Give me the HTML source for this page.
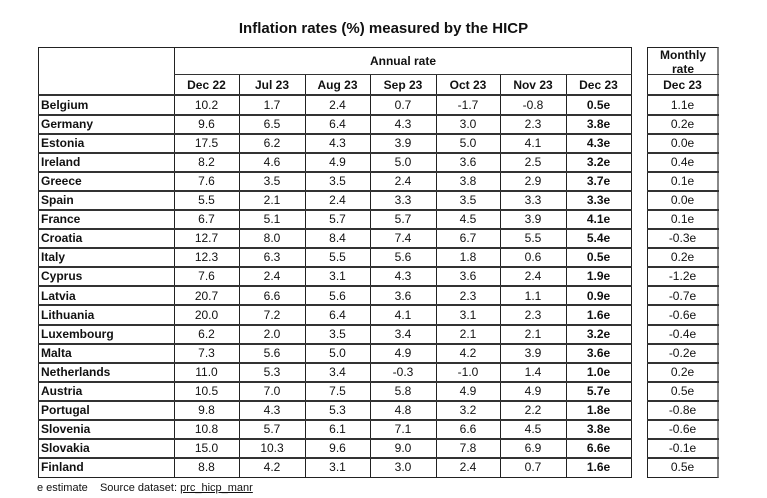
<!DOCTYPE html>
<html><head><meta charset="utf-8"><style>
*{margin:0;padding:0;box-sizing:border-box}
body{width:767px;height:498px;background:#fff;position:relative;font-family:"Liberation Sans",Arial,sans-serif;color:#111;overflow:hidden}
.t{position:absolute;left:0;width:767px;top:20px;text-align:center;font-weight:bold;font-size:15px}
.box{position:absolute;border:1px solid #222}
.r{position:absolute;left:38px;height:19.1px;width:680px;font-size:12px;line-height:19px}
.r span{position:absolute;top:0;text-align:center}
.c0{left:3px;width:130px;text-align:left!important;font-weight:bold}
.c1{left:136px;width:65px}.c2{left:201px;width:66px}.c3{left:267px;width:65px}.c4{left:332px;width:66px}
.c5{left:398px;width:64px}.c6{left:462px;width:66px}.c7{left:528px;width:65px;font-weight:bold}.c8{left:609px;width:71px}
.hl{position:absolute;height:2px;background:#333}
.vl{position:absolute;width:1px;background:#222}
.h{font-weight:bold;font-size:12px;position:absolute;text-align:center}
.f{position:absolute;left:37px;top:482px;font-size:11px}
</style></head><body>
<div class="t">Inflation rates (%) measured by the HICP</div>
<div class="box" style="left:38px;top:47px;width:594px;height:431px"></div>
<div class="box" style="left:647px;top:47px;width:72px;height:431px;border-right:2px solid #888"></div>
<div class="vl" style="left:174px;top:47px;height:431px"></div>
<div class="vl" style="left:239px;top:75px;height:403px"></div>
<div class="vl" style="left:305px;top:75px;height:403px"></div>
<div class="vl" style="left:370px;top:75px;height:403px"></div>
<div class="vl" style="left:436px;top:75px;height:403px"></div>
<div class="vl" style="left:500px;top:75px;height:403px"></div>
<div class="vl" style="left:566px;top:75px;height:403px"></div>
<div class="hl" style="left:174px;top:74px;width:458px;height:1px"></div>
<div class="hl" style="left:647px;top:74px;width:72px;height:1px"></div>
<div class="h" style="left:174px;top:54px;width:458px">Annual rate</div>
<div class="h" style="left:647px;top:48px;width:72px;line-height:14px">Monthly<br>rate</div>
<div class="r" style="top:76px;font-weight:bold"><span class="c1">Dec 22</span><span class="c2">Jul 23</span><span class="c3">Aug 23</span><span class="c4">Sep 23</span><span class="c5">Oct 23</span><span class="c6">Nov 23</span><span class="c7">Dec 23</span><span class="c8">Dec 23</span></div>
<div class="hl" style="left:38px;top:94px;width:594px"></div><div class="hl" style="left:647px;top:94px;width:72px"></div>
<div class="hl" style="left:38px;top:114px;width:594px"></div><div class="hl" style="left:647px;top:114px;width:72px"></div>
<div class="hl" style="left:38px;top:133px;width:594px"></div><div class="hl" style="left:647px;top:133px;width:72px"></div>
<div class="hl" style="left:38px;top:152px;width:594px"></div><div class="hl" style="left:647px;top:152px;width:72px"></div>
<div class="hl" style="left:38px;top:171px;width:594px"></div><div class="hl" style="left:647px;top:171px;width:72px"></div>
<div class="hl" style="left:38px;top:190px;width:594px"></div><div class="hl" style="left:647px;top:190px;width:72px"></div>
<div class="hl" style="left:38px;top:209px;width:594px"></div><div class="hl" style="left:647px;top:209px;width:72px"></div>
<div class="hl" style="left:38px;top:228px;width:594px"></div><div class="hl" style="left:647px;top:228px;width:72px"></div>
<div class="hl" style="left:38px;top:247px;width:594px"></div><div class="hl" style="left:647px;top:247px;width:72px"></div>
<div class="hl" style="left:38px;top:266px;width:594px"></div><div class="hl" style="left:647px;top:266px;width:72px"></div>
<div class="hl" style="left:38px;top:285px;width:594px"></div><div class="hl" style="left:647px;top:285px;width:72px"></div>
<div class="hl" style="left:38px;top:304px;width:594px"></div><div class="hl" style="left:647px;top:304px;width:72px"></div>
<div class="hl" style="left:38px;top:324px;width:594px"></div><div class="hl" style="left:647px;top:324px;width:72px"></div>
<div class="hl" style="left:38px;top:343px;width:594px"></div><div class="hl" style="left:647px;top:343px;width:72px"></div>
<div class="hl" style="left:38px;top:362px;width:594px"></div><div class="hl" style="left:647px;top:362px;width:72px"></div>
<div class="hl" style="left:38px;top:381px;width:594px"></div><div class="hl" style="left:647px;top:381px;width:72px"></div>
<div class="hl" style="left:38px;top:400px;width:594px"></div><div class="hl" style="left:647px;top:400px;width:72px"></div>
<div class="hl" style="left:38px;top:419px;width:594px"></div><div class="hl" style="left:647px;top:419px;width:72px"></div>
<div class="hl" style="left:38px;top:438px;width:594px"></div><div class="hl" style="left:647px;top:438px;width:72px"></div>
<div class="hl" style="left:38px;top:457px;width:594px"></div><div class="hl" style="left:647px;top:457px;width:72px"></div>

<div class="r" style="top:95.5px"><span class="c0">Belgium</span><span class="c1">10.2</span><span class="c2">1.7</span><span class="c3">2.4</span><span class="c4">0.7</span><span class="c5">-1.7</span><span class="c6">-0.8</span><span class="c7">0.5e</span><span class="c8">1.1e</span></div>
<div class="r" style="top:114.6px"><span class="c0">Germany</span><span class="c1">9.6</span><span class="c2">6.5</span><span class="c3">6.4</span><span class="c4">4.3</span><span class="c5">3.0</span><span class="c6">2.3</span><span class="c7">3.8e</span><span class="c8">0.2e</span></div>
<div class="r" style="top:133.7px"><span class="c0">Estonia</span><span class="c1">17.5</span><span class="c2">6.2</span><span class="c3">4.3</span><span class="c4">3.9</span><span class="c5">5.0</span><span class="c6">4.1</span><span class="c7">4.3e</span><span class="c8">0.0e</span></div>
<div class="r" style="top:152.8px"><span class="c0">Ireland</span><span class="c1">8.2</span><span class="c2">4.6</span><span class="c3">4.9</span><span class="c4">5.0</span><span class="c5">3.6</span><span class="c6">2.5</span><span class="c7">3.2e</span><span class="c8">0.4e</span></div>
<div class="r" style="top:171.9px"><span class="c0">Greece</span><span class="c1">7.6</span><span class="c2">3.5</span><span class="c3">3.5</span><span class="c4">2.4</span><span class="c5">3.8</span><span class="c6">2.9</span><span class="c7">3.7e</span><span class="c8">0.1e</span></div>
<div class="r" style="top:191px"><span class="c0">Spain</span><span class="c1">5.5</span><span class="c2">2.1</span><span class="c3">2.4</span><span class="c4">3.3</span><span class="c5">3.5</span><span class="c6">3.3</span><span class="c7">3.3e</span><span class="c8">0.0e</span></div>
<div class="r" style="top:210.1px"><span class="c0">France</span><span class="c1">6.7</span><span class="c2">5.1</span><span class="c3">5.7</span><span class="c4">5.7</span><span class="c5">4.5</span><span class="c6">3.9</span><span class="c7">4.1e</span><span class="c8">0.1e</span></div>
<div class="r" style="top:229.2px"><span class="c0">Croatia</span><span class="c1">12.7</span><span class="c2">8.0</span><span class="c3">8.4</span><span class="c4">7.4</span><span class="c5">6.7</span><span class="c6">5.5</span><span class="c7">5.4e</span><span class="c8">-0.3e</span></div>
<div class="r" style="top:248.3px"><span class="c0">Italy</span><span class="c1">12.3</span><span class="c2">6.3</span><span class="c3">5.5</span><span class="c4">5.6</span><span class="c5">1.8</span><span class="c6">0.6</span><span class="c7">0.5e</span><span class="c8">0.2e</span></div>
<div class="r" style="top:267.4px"><span class="c0">Cyprus</span><span class="c1">7.6</span><span class="c2">2.4</span><span class="c3">3.1</span><span class="c4">4.3</span><span class="c5">3.6</span><span class="c6">2.4</span><span class="c7">1.9e</span><span class="c8">-1.2e</span></div>
<div class="r" style="top:286.5px"><span class="c0">Latvia</span><span class="c1">20.7</span><span class="c2">6.6</span><span class="c3">5.6</span><span class="c4">3.6</span><span class="c5">2.3</span><span class="c6">1.1</span><span class="c7">0.9e</span><span class="c8">-0.7e</span></div>
<div class="r" style="top:305.6px"><span class="c0">Lithuania</span><span class="c1">20.0</span><span class="c2">7.2</span><span class="c3">6.4</span><span class="c4">4.1</span><span class="c5">3.1</span><span class="c6">2.3</span><span class="c7">1.6e</span><span class="c8">-0.6e</span></div>
<div class="r" style="top:324.7px"><span class="c0">Luxembourg</span><span class="c1">6.2</span><span class="c2">2.0</span><span class="c3">3.5</span><span class="c4">3.4</span><span class="c5">2.1</span><span class="c6">2.1</span><span class="c7">3.2e</span><span class="c8">-0.4e</span></div>
<div class="r" style="top:343.8px"><span class="c0">Malta</span><span class="c1">7.3</span><span class="c2">5.6</span><span class="c3">5.0</span><span class="c4">4.9</span><span class="c5">4.2</span><span class="c6">3.9</span><span class="c7">3.6e</span><span class="c8">-0.2e</span></div>
<div class="r" style="top:362.9px"><span class="c0">Netherlands</span><span class="c1">11.0</span><span class="c2">5.3</span><span class="c3">3.4</span><span class="c4">-0.3</span><span class="c5">-1.0</span><span class="c6">1.4</span><span class="c7">1.0e</span><span class="c8">0.2e</span></div>
<div class="r" style="top:382px"><span class="c0">Austria</span><span class="c1">10.5</span><span class="c2">7.0</span><span class="c3">7.5</span><span class="c4">5.8</span><span class="c5">4.9</span><span class="c6">4.9</span><span class="c7">5.7e</span><span class="c8">0.5e</span></div>
<div class="r" style="top:401.1px"><span class="c0">Portugal</span><span class="c1">9.8</span><span class="c2">4.3</span><span class="c3">5.3</span><span class="c4">4.8</span><span class="c5">3.2</span><span class="c6">2.2</span><span class="c7">1.8e</span><span class="c8">-0.8e</span></div>
<div class="r" style="top:420.2px"><span class="c0">Slovenia</span><span class="c1">10.8</span><span class="c2">5.7</span><span class="c3">6.1</span><span class="c4">7.1</span><span class="c5">6.6</span><span class="c6">4.5</span><span class="c7">3.8e</span><span class="c8">-0.6e</span></div>
<div class="r" style="top:439.3px"><span class="c0">Slovakia</span><span class="c1">15.0</span><span class="c2">10.3</span><span class="c3">9.6</span><span class="c4">9.0</span><span class="c5">7.8</span><span class="c6">6.9</span><span class="c7">6.6e</span><span class="c8">-0.1e</span></div>
<div class="r" style="top:458.4px"><span class="c0">Finland</span><span class="c1">8.8</span><span class="c2">4.2</span><span class="c3">3.1</span><span class="c4">3.0</span><span class="c5">2.4</span><span class="c6">0.7</span><span class="c7">1.6e</span><span class="c8">0.5e</span></div>
<div class="f">e estimate &nbsp;&nbsp;&nbsp;Source dataset: <u>prc_hicp_manr</u></div>
</body></html>
